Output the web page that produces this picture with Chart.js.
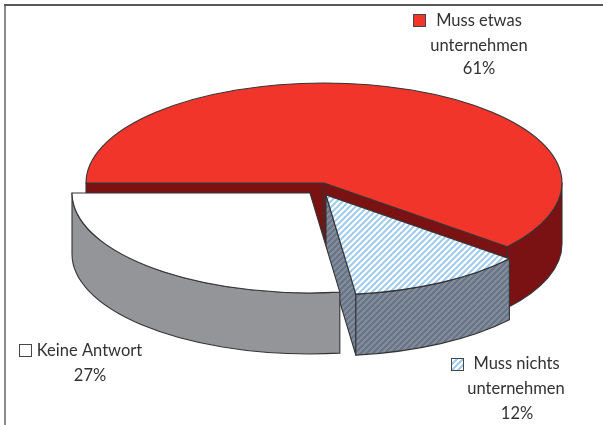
<!DOCTYPE html>
<html lang="de">
<head>
<meta charset="utf-8">
<title>Kreisdiagramm</title>
<style>html,body{margin:0;padding:0;background:#fff}canvas{display:block}</style>
<script src="https://cdn.jsdelivr.net/npm/chart.js@4"></script>
</head>
<body>
<canvas id="c" width="603" height="425"></canvas>
<script>
// Data
const categories = ['Muss etwas unternehmen', 'Muss nichts unternehmen', 'Keine Antwort'];
const values = [61, 12, 27];

// Appearance
const tilt = 0.42, depth = 61, pieRadius = 238, pieCentre = {x: 324, y: 183};
const sliceShift = [{x: 0, y: 0}, {x: 2, y: 12}, {x: -14, y: 10}];
const outline = '#343436';

function hatch(bg, fg, unscale) {
  const s = 6, k = 3, p = document.createElement('canvas');
  p.width = p.height = s * k;
  const g = p.getContext('2d');
  g.fillStyle = bg; g.fillRect(0, 0, s * k, s * k);
  g.strokeStyle = fg; g.lineWidth = 6.4;
  for (let i = -1; i <= 2; i++) {
    g.beginPath();
    g.moveTo(i * s * k - 2, s * k + 2);
    g.lineTo(i * s * k + s * k + 2, -2);
    g.stroke();
  }
  const pat = g.createPattern(p, 'repeat');
  pat.setTransform(new DOMMatrix().scale(1 / k, unscale / k));
  return pat;
}
const topFill = ['#F1352B', hatch('#ffffff', '#A3CDEE', 1 / tilt), '#ffffff'];
const wallFill = ['#7A1112', hatch('#838C97', '#66758A', 1), '#939598'];
const swatchFill = ['#F1352B', hatch('#ffffff', '#A3CDEE', 1), '#ffffff'];

function rimPoint(c, r, a) {
  return [c.x + r * Math.cos(a), c.y + r * tilt * Math.sin(a)];
}
function paint(ctx, fill) {
  ctx.fillStyle = fill; ctx.fill();
  ctx.strokeStyle = outline; ctx.lineWidth = 1.1; ctx.lineJoin = 'round'; ctx.stroke();
}
function radialFace(ctx, c, r, a, fill) {
  const p = rimPoint(c, r, a);
  ctx.beginPath();
  ctx.moveTo(c.x, c.y);
  ctx.lineTo(p[0], p[1]);
  ctx.lineTo(p[0], p[1] + depth);
  ctx.lineTo(c.x, c.y + depth);
  ctx.closePath();
  paint(ctx, fill);
}
function rimWall(ctx, c, r, a0, a1, fill) {
  // front part of the rim: angles between 0 and PI, modulo a full turn
  const full = Math.PI * 2;
  for (let k = -1; k <= 1; k++) {
    const from = Math.max(a0, k * full), to = Math.min(a1, k * full + Math.PI);
    if (to - from < 1e-4) continue;
    ctx.beginPath();
    ctx.ellipse(c.x, c.y, r, r * tilt, 0, from, to);
    ctx.ellipse(c.x, c.y + depth, r, r * tilt, 0, to, from, true);
    ctx.closePath();
    paint(ctx, fill);
  }
}

const pie3d = {
  id: 'pie3d',
  beforeDatasetsDraw(chart) {
    const ctx = chart.ctx;
    chart.getDatasetMeta(0).data.forEach((el, i) => {
      const c = {x: pieCentre.x + sliceShift[i].x, y: pieCentre.y + sliceShift[i].y};
      const {startAngle: a0, endAngle: a1, outerRadius: r} = el;
      ctx.save();
      if (Math.cos(a0) < 0) radialFace(ctx, c, r, a0, wallFill[i]);
      if (Math.cos(a1) > 0) radialFace(ctx, c, r, a1, wallFill[i]);
      rimWall(ctx, c, r, a0, a1, wallFill[i]);
      // top face: the library's own arc element, laid flat
      ctx.save();
      ctx.translate(c.x, c.y);
      ctx.scale(1, tilt);
      ctx.translate(-el.x, -el.y);
      el.draw(ctx);
      ctx.restore();
      ctx.beginPath();
      ctx.moveTo(c.x, c.y);
      ctx.ellipse(c.x, c.y, r, r * tilt, 0, a0, a1);
      ctx.closePath();
      ctx.strokeStyle = outline; ctx.lineWidth = 1.1; ctx.lineJoin = 'round'; ctx.stroke();
      ctx.restore();
    });
    return false;
  }
};

const labelLines = [
  ['Muss etwas', 'unternehmen', values[0] + '%'],
  ['Muss nichts', 'unternehmen', values[1] + '%'],
  ['Keine Antwort', values[2] + '%']
];
const labelBox = [[413, 14], [451, 358], [19, 344]];
const labelX = [[479, 479, 479], [516.5, 516, 517], [89.5, 90]];
const labelY = [[21, 46, 69], [364, 389, 414], [351, 376]];

const labels3d = {
  id: 'labels3d',
  afterDraw(chart) {
    const ctx = chart.ctx;
    ctx.save();
    ctx.fillStyle = '#8a8a8c'; ctx.fillRect(4, 5, 2, 420);
    ctx.fillStyle = '#58585a'; ctx.fillRect(4, 4, 599, 2);
    labelLines.forEach((lines, i) => {
      const b = labelBox[i];
      ctx.fillStyle = swatchFill[i];
      ctx.fillRect(b[0], b[1], 13, 13);
      ctx.strokeStyle = '#46464a'; ctx.lineWidth = 1;
      ctx.strokeRect(b[0] + .5, b[1] + .5, 12, 12);
      ctx.fillStyle = '#323234';
      ctx.font = '400 16.5px Lato, sans-serif';
      ctx.textAlign = 'center'; ctx.textBaseline = 'middle';
      lines.forEach((t, j) => ctx.fillText(t, labelX[i][j], labelY[i][j]));
    });
    ctx.restore();
  }
};

new Chart(document.getElementById('c'), {
  type: 'pie',
  data: {
    labels: categories,
    datasets: [{data: values, backgroundColor: topFill, borderWidth: 0, radius: pieRadius}]
  },
  options: {
    responsive: false,
    animation: false,
    rotation: 270,
    layout: {padding: 0},
    plugins: {legend: {display: false}, tooltip: {enabled: false}, title: {display: false}}
  },
  plugins: [pie3d, labels3d]
});
</script>
</body>
</html>
